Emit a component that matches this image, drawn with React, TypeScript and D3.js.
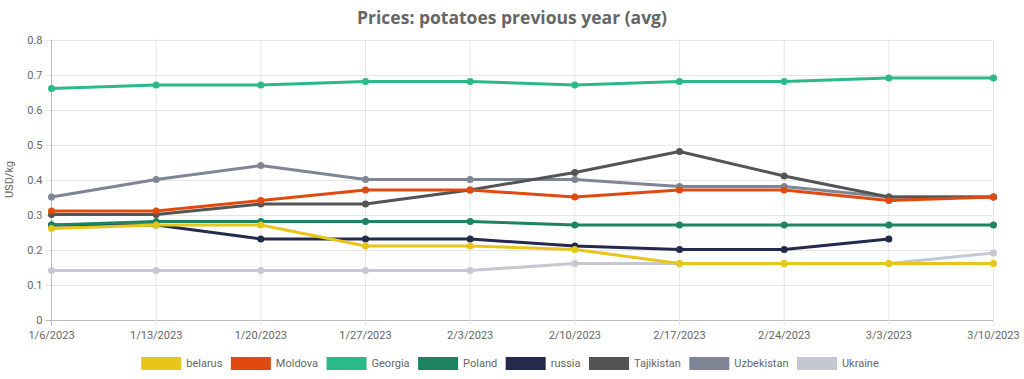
import React from "react";
import * as d3 from "d3";

const dates = ["1/6/2023", "1/13/2023", "1/20/2023", "1/27/2023", "2/3/2023", "2/10/2023", "2/17/2023", "2/24/2023", "3/3/2023", "3/10/2023"];
const yTicks = [0, 0.1, 0.2, 0.3, 0.4, 0.5, 0.6, 0.7, 0.8];

const belarus = [0.26, 0.27, 0.27, 0.21, 0.21, 0.2, 0.16, 0.16, 0.16, 0.16];
const moldova = [0.31, 0.31, 0.34, 0.37, 0.37, 0.35, 0.37, 0.37, 0.34, 0.35];
const georgia = [0.66, 0.67, 0.67, 0.68, 0.68, 0.67, 0.68, 0.68, 0.69, 0.69];
const poland = [0.27, 0.28, 0.28, 0.28, 0.28, 0.27, 0.27, 0.27, 0.27, 0.27];
const russia = [0.27, 0.27, 0.23, 0.23, 0.23, 0.21, 0.2, 0.2, 0.23, null];
const tajikistan = [0.3, 0.3, 0.33, 0.33, 0.37, 0.42, 0.48, 0.41, 0.35, 0.35];
const uzbekistan = [0.35, 0.4, 0.44, 0.4, 0.4, 0.4, 0.38, 0.38, 0.35, 0.35];
const ukraine = [0.14, 0.14, 0.14, 0.14, 0.14, 0.16, 0.16, 0.16, 0.16, 0.19];

const seriesNames = ["belarus", "Moldova", "Georgia", "Poland", "russia", "Tajikistan", "Uzbekistan", "Ukraine"];
const seriesValues = [belarus, moldova, georgia, poland, russia, tajikistan, uzbekistan, ukraine];
const seriesColors = ["#E6C619", "#E04A0F", "#2BB98A", "#1C8462", "#232A4D", "#545454", "#7F8595", "#C5C8D1"];

const W = 1024;
const H = 379;
const left = 51.5;
const right = 993.5;
const top = 39.5;
const bottom = 319.5;
const textColor = "#666";
const font = "Roboto, sans-serif";

function measure(text: string, f: string) {
  const c = document.createElement("canvas").getContext("2d");
  if (!c) return text.length * 6;
  c.font = f;
  return c.measureText(text).width;
}

export default function App() {
  const x = d3.scalePoint<string>().domain(dates).range([left, right]);
  const y = d3.scaleLinear().domain([0, 0.8]).range([bottom, top]);

  const line = d3
    .line<number | null>()
    .defined((d) => d !== null)
    .x((_, i) => x(dates[i]) as number)
    .y((d) => y(d as number));

  const legendFont = "11px Roboto";
  const boxW = 40;
  const boxH = 13;
  const textGap = 5;
  const itemGap = 8.5;
  const widths = seriesNames.map((n) => measure(n, legendFont));
  const itemWidths = widths.map((w) => boxW + textGap + w);
  const total = d3.sum(itemWidths) + itemGap * (seriesNames.length - 1);
  let cursor = 510 - total / 2;
  const legendItems = seriesNames.map((n, i) => {
    const xPos = cursor;
    cursor += itemWidths[i] + itemGap;
    return { name: n, x: xPos, color: seriesColors[i] };
  });
  const legendY = 357;

  const order = seriesNames.map((_, i) => i).reverse();

  return (
    <svg width={W} height={H} style={{ position: "absolute", left: 0, top: 0, background: "#fff" }}>
      <text x={512} y={24} textAnchor="middle" fontFamily="'Open Sans', sans-serif" fontWeight={700} fontSize={17.5} fill={textColor}>
        Prices: potatoes previous year (avg)
      </text>
      {yTicks.map((t) => (
        <g key={"y" + t}>
          <line x1={left - 6} x2={right} y1={Math.round(y(t)) + 0.5} y2={Math.round(y(t)) + 0.5} stroke={t === 0 ? "#bbb" : "#e6e6e6"} strokeWidth={1} />
          <text x={left - 9} y={y(t) + 4} textAnchor="end" fontFamily={font} fontSize={11} fill={textColor}>
            {t === 0 ? "0" : t.toFixed(1)}
          </text>
        </g>
      ))}
      {dates.map((d, i) => (
        <g key={"x" + d}>
          <line x1={x(d)} x2={x(d)} y1={top} y2={bottom + 6} stroke={i === 0 ? "#bbb" : "#e6e6e6"} strokeWidth={1} />
          <text x={x(d)} y={339} textAnchor="middle" fontFamily={font} fontSize={11} fill={textColor}>
            {d}
          </text>
        </g>
      ))}
      <text transform={`translate(13,${(top + bottom) / 2}) rotate(-90)`} textAnchor="middle" fontFamily={font} fontSize={11} fill={textColor}>
        USD/kg
      </text>
      {order.map((si) => (
        <g key={seriesNames[si]}>
          <path d={line(seriesValues[si]) || ""} fill="none" stroke={seriesColors[si]} strokeWidth={3} strokeLinejoin="round" />
          {seriesValues[si].map((v, i) =>
            v === null ? null : <circle key={i} cx={x(dates[i])} cy={y(v)} r={3.5} fill={seriesColors[si]} />
          )}
        </g>
      ))}
      {legendItems.map((it) => (
        <g key={"l" + it.name}>
          <rect x={it.x} y={legendY} width={boxW} height={boxH} fill={it.color} />
          <text x={it.x + boxW + textGap} y={legendY + 10} fontFamily={font} fontSize={11} fill={textColor}>
            {it.name}
          </text>
        </g>
      ))}
    </svg>
  );
}
